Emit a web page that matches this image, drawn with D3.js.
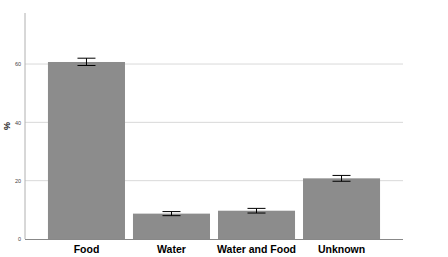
<!DOCTYPE html>
<html><head><meta charset="utf-8">
<script src="https://cdn.jsdelivr.net/npm/d3@7"></script>
<style>body{margin:0;background:#fff}svg{display:block}</style>
</head><body>
<svg id="c" width="448" height="257"></svg>
<script>
const categories = ["Food", "Water", "Water and Food", "Unknown"];
const values = [60.7, 8.7, 9.7, 20.8];
const errLow = [59.5, 8.0, 8.9, 19.8];
const errHigh = [62.0, 9.4, 10.5, 21.8];
const yTicks = [0, 20, 40, 60];
const yLabel = "%";

const svg = d3.select("#c");
const x0 = 25, x1 = 403, yBottom = 239, yTop = 13;
const y = d3.scaleLinear().domain([0, 77.5]).range([yBottom, yTop]);
const x = d3.scaleBand().domain(categories).range([x0, x1]).paddingInner(0.094).paddingOuter(0.27);

// gridlines
svg.append("g").selectAll("line").data(yTicks.filter(d => d > 0)).join("line")
  .attr("x1", x0).attr("x2", x1).attr("y1", d => y(d)).attr("y2", d => y(d))
  .attr("stroke", "#d9d9d9").attr("stroke-width", 1);

// y axis
const ya = d3.axisLeft(y).tickValues(yTicks).tickSize(0).tickPadding(4);
const gy = svg.append("g").attr("transform", `translate(${x0},0)`).call(ya);
gy.select(".domain").remove();
gy.selectAll("text").attr("font-family", "Liberation Sans, Arial, sans-serif").attr("font-size", 5.5).attr("fill", "#444");
svg.append("line").attr("x1", x0).attr("x2", x0).attr("y1", yTop).attr("y2", yBottom)
  .attr("stroke", "#b0b0b0").attr("stroke-width", 1);

// bars
svg.append("g").selectAll("rect").data(categories).join("rect")
  .attr("x", d => x(d)).attr("width", x.bandwidth())
  .attr("y", (d, i) => y(values[i])).attr("height", (d, i) => y(0) - y(values[i]))
  .attr("fill", "#8c8c8c");

// x axis
const xa = d3.axisBottom(x).tickSize(0).tickPadding(7);
const gx = svg.append("g").attr("transform", `translate(0,${yBottom})`).call(xa);
gx.select(".domain").attr("stroke", "#888").attr("d", `M${x0},0.5H${x1}`);
gx.selectAll("text").attr("font-family", "Liberation Sans, Arial, sans-serif").attr("font-size", 10.5)
  .attr("font-weight", "bold").attr("fill", "#000");

// error bars
const eb = svg.append("g").attr("stroke", "#000").attr("stroke-width", 1);
categories.forEach((c, i) => {
  const cx = x(c) + x.bandwidth() / 2;
  eb.append("line").attr("x1", cx).attr("x2", cx).attr("y1", y(errHigh[i])).attr("y2", y(errLow[i]));
  eb.append("line").attr("x1", cx - 9).attr("x2", cx + 9).attr("y1", y(errHigh[i])).attr("y2", y(errHigh[i]));
  eb.append("line").attr("x1", cx - 9).attr("x2", cx + 9).attr("y1", y(errLow[i])).attr("y2", y(errLow[i]));
});

// y label
svg.append("text").attr("transform", "translate(10,126) rotate(-90)")
  .attr("text-anchor", "middle").attr("font-family", "Liberation Sans, Arial, sans-serif")
  .attr("font-size", 9).attr("font-weight", "bold").attr("fill", "#222").text(yLabel);
</script>
</body></html>
